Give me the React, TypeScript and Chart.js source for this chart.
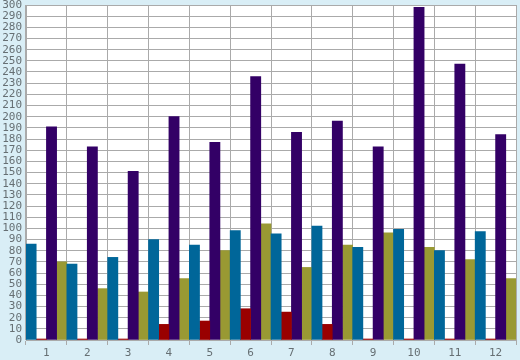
import React, { useEffect, useRef } from "react";
import { Chart, registerables } from "chart.js";

Chart.register(...registerables);

const categories = ["1", "2", "3", "4", "5", "6", "7", "8", "9", "10", "11", "12"];
const blueValues = [86, 68, 74, 90, 85, 98, 95, 102, 83, 99, 80, 97];
const redValues = [0, 0, 0, 14, 17, 28, 25, 14, 0, 0, 0, 0];
const purpleValues = [191, 173, 151, 200, 177, 236, 186, 196, 173, 298, 247, 184];
const oliveValues = [70, 46, 43, 55, 80, 104, 65, 85, 96, 83, 72, 55];

const plotBg = {
  id: "plotBg",
  beforeDraw(chart: any) {
    const { ctx, chartArea } = chart;
    ctx.save();
    ctx.fillStyle = "#ffffff";
    ctx.fillRect(chartArea.left, chartArea.top, chartArea.right - chartArea.left, chartArea.bottom - chartArea.top);
    ctx.restore();
  },
};

export default function App() {
  const ref = useRef<HTMLCanvasElement>(null);
  useEffect(() => {
    const font = { family: "DejaVu Sans Mono", size: 11 };
    const chart = new Chart(ref.current as HTMLCanvasElement, {
      type: "bar",
      data: {
        labels: categories,
        datasets: [
          { label: "A", data: blueValues, backgroundColor: "#006699" },
          { label: "B", data: redValues, backgroundColor: "#990000" },
          { label: "C", data: purpleValues, backgroundColor: "#330066" },
          { label: "D", data: oliveValues, backgroundColor: "#999933" },
        ],
      },
      options: {
        animation: false,
        responsive: false,
        maintainAspectRatio: false,
        layout: { padding: { top: 5, right: 4, left: 0, bottom: 0 } },
        datasets: { bar: { categoryPercentage: 1, barPercentage: 1, minBarLength: 1, borderWidth: 0 } },
        plugins: { legend: { display: false }, tooltip: { enabled: false }, title: { display: false } },
        scales: {
          x: {
            offset: true,
            grid: { offset: true, color: "#aaaaaa", tickLength: 5, drawTicks: true },
            border: { color: "#aaaaaa" },
            ticks: { color: "#666f73", font, padding: 2, maxRotation: 0 },
            afterFit: (s: any) => { s.height = 20; s.paddingLeft = 0; s.paddingRight = 0; },
          },
          y: {
            min: 0,
            max: 300,
            grid: { color: "#aaaaaa", drawTicks: false },
            border: { color: "#aaaaaa" },
            ticks: { stepSize: 10, color: "#666f73", font, padding: 4, autoSkip: false },
            afterFit: (s: any) => { s.width = 26; s.paddingTop = 0; s.paddingBottom = 0; },
          },
        },
      },
      plugins: [plotBg],
    });
    return () => chart.destroy();
  }, []);
  return (
    <div style={{ position: "fixed", left: 0, top: 0, width: 520, height: 360, background: "#d9eef6" }}>
      <canvas ref={ref} width={520} height={360} style={{ width: 520, height: 360, display: "block" }} />
    </div>
  );
}
